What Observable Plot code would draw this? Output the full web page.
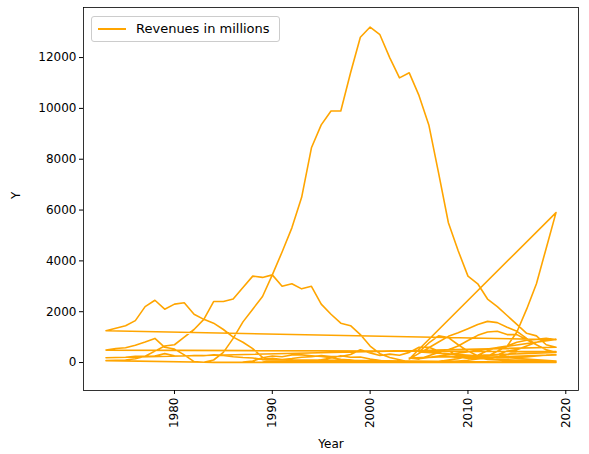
<!DOCTYPE html>
<html><head><meta charset="utf-8">
<script src="https://cdn.jsdelivr.net/npm/d3@7"></script>
<script src="https://cdn.jsdelivr.net/npm/@observablehq/plot@0.6"></script>
<style>body{margin:0;background:#fff;font-family:"DejaVu Sans",sans-serif}#wrap{position:relative;width:589px;height:454px}
#leg{position:absolute;left:91px;top:16px;border:1px solid #ccc;border-radius:3px;background:#fff;padding:4px 9px 5px 6px;font-size:13px;display:flex;align-items:center}
#leg span.l{display:inline-block;width:28px;height:2px;background:orange;margin-right:10px}</style>
</head><body><div id="wrap"><div id="leg"><span class="l"></span>Revenues in millions</div></div>
<script>
const seriesNames = ["SoundExchange","LP/EP","8-Track","Cassette","CD","Vinyl Single","Cassette Single","CD Single","Music Video","Ringtones","Synchronization","Ad-Supported Streaming","Paid Subscription","Download Single","Download Album"];
const startYears = [2004,1973,1973,1973,1983,1973,1987,1988,1989,2005,2009,2011,2005,2004,2004];
const paidYears = [2005,2006,2007,2008,2009,2010,2011,2012,2014,2015,2016,2017,2018,2019];
const values = [
  [7,20,33,37,100,155,250,290,460,590,650,800,880,910,950,900],
  [1250,1350,1450,1650,2200,2450,2100,2300,2350,1900,1700,1550,1300,1000,800,550,200,100,50,30,20,20,20,15,20,30,30,25,20,20,15,20,20,20,30,35,60,90,140,180,220,320,420,420,420,400,430],
  [490,550,580,680,810,950,600,530,300,35,10,5,0],
  [75,90,100,150,250,450,650,700,1000,1300,1700,2400,2400,2500,2950,3400,3350,3450,3000,3100,2900,3000,2300,1900,1550,1450,1100,650,350,200,110,25,15,5,3,2,1,0,0,0,0,0,0,0,0,0,0],
  [10,100,400,950,1600,2100,2600,3450,4350,5300,6500,8450,9350,9900,9900,11400,12800,13200,12900,12000,11200,11400,10500,9350,7450,5500,4400,3400,3100,2500,2200,1850,1500,1150,1050,700,600],
  [190,200,210,245,245,260,350,270,260,280,270,300,280,230,200,180,120,95,60,65,50,50,45,35,30,25,25,10,5,5,5,5,5,5,5,5,5,5,5,5,5,5,5,5,5,5,5],
  [15,60,190,260,230,300,300,270,240,190,130,95,50,20,5,0],
  [10,20,70,80,70,55,50,110,180,270,210,220,140,80,20,30,15,10,5,5,5,5,5,5,5,5,5,5,5,5,5,5],
  [115,170,120,160,210,230,280,240,240,320,500,380,280,330,290,400,600,600,450,480,220,160,200,120,100,90,90,70,60,60,60],
  [420,770,1050,980,700,450,270,170,100,70,60,50,40,30,25],
  [200,190,200,250,200,190,200,220,260,290,300],
  [200,280,300,450,500,650,800,900,910],
  [150,200,220,230,200,210,230,250,640,1200,2100,3100,4500,5900],
  [140,360,580,810,1030,1170,1330,1500,1620,1570,1390,1230,950,700,500,400],
  [180,135,270,400,500,650,870,1070,1200,1230,1100,1100,900,700,500,400]
];
const pts = [];
values.forEach((vs, i) => {
  if (seriesNames[i] === "Paid Subscription") {
    vs.forEach((v, j) => pts.push({year: paidYears[j], v}));
    return;
  }
  vs.forEach((v, j) => pts.push({year: startYears[i] + j, v}));
});
const chart = Plot.plot({
  width: 589, height: 454,
  marginLeft: 83, marginRight: 11, marginTop: 7, marginBottom: 64,
  style: {fontFamily: "DejaVu Sans", fontSize: "12px", color: "#000", background: "#fff"},
  x: {domain: [1970.7, 2021.3]},
  y: {domain: [-1100, 13970]},
  marks: [
    Plot.frame({stroke: "#000", strokeWidth: 0.8}),
    Plot.axisX({ticks: [1980,1990,2000,2010,2020], tickFormat: d => String(d), tickRotate: -90, tickSize: 4, tickPadding: 3, label: null, fontSize: 12}),
    Plot.axisY({ticks: [0,2000,4000,6000,8000,10000,12000], tickFormat: d => String(d), tickSize: 4, tickPadding: 3, label: null, fontSize: 12}),
    Plot.text(["Year"], {frameAnchor: "bottom", dy: 57, fontSize: 12}),
    Plot.text(["Y"], {frameAnchor: "left", dx: -67, rotate: -90, fontSize: 12}),
    Plot.line(pts, {x: "year", y: "v", stroke: "orange", strokeWidth: 1.6})
  ]
});
chart.style.overflow = "visible";
document.getElementById("wrap").prepend(chart);
</script></body></html>
